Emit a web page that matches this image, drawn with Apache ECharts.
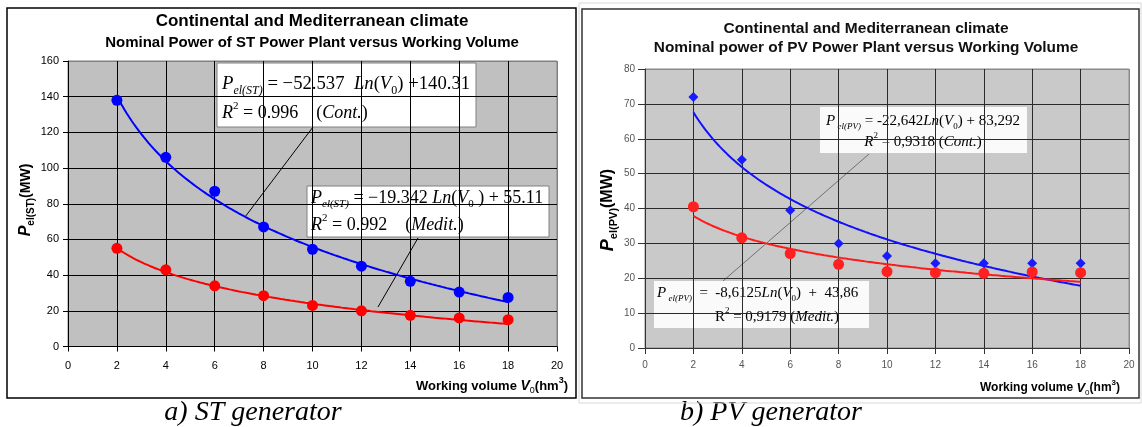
<!DOCTYPE html>
<html>
<head>
<meta charset="utf-8">
<script src="https://cdn.jsdelivr.net/npm/echarts@6/dist/echarts.min.js"></script>
<style>
  html, body { margin: 0; padding: 0; background: #fff; }
  #st { position: absolute; left: 0; top: 0; width: 1142px; height: 427px; }
  #pv { position: absolute; left: 578px; top: 0; width: 564px; height: 405px; filter: blur(0.6px); }
</style>
</head>
<body>
<div id="st"></div>
<div id="pv"></div>
<script>
// Working volume V0 (hm³)
const volume = [2, 4, 6, 8, 10, 12, 14, 16, 18];

// ST generator – nominal power (MW)
const stCont  = [138, 106, 87, 67, 54.5, 45, 36.5, 30.5, 27.5];
const stMedit = [55, 43, 34, 28.5, 23, 20, 17.5, 16, 15];

// PV generator – nominal power (MW)
const pvCont  = [72, 54, 39.5, 30, 26.4, 24.3, 24.3, 24.3, 24.3];
const pvMedit = [40.5, 31.6, 27.1, 24, 21.9, 21.6, 21.4, 21.8, 21.6];

// Logarithmic fits  P = a·Ln(V0) + b   as [a, b]
const stFitCont  = [-52.537, 140.31];
const stFitMedit = [-19.342, 55.11];
const pvFitCont  = [-22.642, 83.292];
const pvFitMedit = [-8.6125, 43.86];
// the ST fits were made against the point number (1…9), i.e. V0 / 2
const stFitDivisor = 2;
const pvFitDivisor = 1;

// Axis ticks
const xAxisTicks  = { min: 0, max: 20, step: 2 };
const stAxisTicks = { min: 0, max: 160, step: 20 };
const pvAxisTicks = { min: 0, max: 80, step: 10 };

const SANS = '"Liberation Sans", Arial, sans-serif';
const SERIF = '"Liberation Serif", "Times New Roman", serif';

function fitCurve(fit, divisor) {
  const pts = [];
  for (let x = volume[0]; x <= volume[volume.length - 1] + 1e-9; x += 0.1) {
    pts.push([x, fit[0] * Math.log(x / divisor) + fit[1]]);
  }
  return pts;
}
function pairs(ys) { return volume.map((v, i) => [v, ys[i]]); }

function formulaRich(S, color) {
  const s = Math.round(S * 0.62);
  return {
    n:  { fontFamily: SERIF, fontSize: S, lineHeight: S + 6, color: color },
    i:  { fontFamily: SERIF, fontSize: S, fontStyle: 'italic', lineHeight: S + 6, color: color },
    si: { fontFamily: SERIF, fontSize: s, fontStyle: 'italic', lineHeight: s, verticalAlign: 'bottom', color: color },
    sn: { fontFamily: SERIF, fontSize: s, lineHeight: s, verticalAlign: 'bottom', color: color },
    up: { fontFamily: SERIF, fontSize: s, lineHeight: s, verticalAlign: 'top', color: color }
  };
}
function axisNameRich(S, color) {
  const s = Math.round(S * 0.7);
  return {
    b:   { fontFamily: SANS, fontWeight: 'bold', fontSize: S, lineHeight: S + 6, color: color },
    bi:  { fontFamily: SANS, fontWeight: 'bold', fontStyle: 'italic', fontSize: S + 1, lineHeight: S + 6, color: color },
    sub: { fontFamily: SANS, fontSize: s, lineHeight: s, verticalAlign: 'bottom', color: color },
    sup: { fontFamily: SANS, fontWeight: 'bold', fontSize: s, lineHeight: s, verticalAlign: 'top', color: color }
  };
}
function text(x, y, str, style, extra) {
  return Object.assign({
    type: 'text', x: x, y: y, silent: true,
    style: Object.assign({ text: str, align: 'left', verticalAlign: 'middle' }, style)
  }, extra || {});
}
function rect(x, y, w, h, style) {
  return { type: 'rect', shape: { x: x, y: y, width: w, height: h }, style: style, silent: true };
}
function line(x1, y1, x2, y2, color, w) {
  return { type: 'line', shape: { x1: x1, y1: y1, x2: x2, y2: y2 }, style: { stroke: color, lineWidth: w }, silent: true };
}
function gridColors(ticks, inner, edge) {
  const n = Math.round((ticks.max - ticks.min) / ticks.step) + 1;
  const arr = [];
  for (let i = 0; i < n; i++) arr.push(i === n - 1 ? edge : inner);
  return arr;
}
function valueAxis(ticks, labelStyle, tickLen, lineColor, gridColor, edgeColor, margin) {
  return {
    type: 'value', min: ticks.min, max: ticks.max, interval: ticks.step,
    axisLine: { show: true, onZero: false, lineStyle: { color: lineColor, width: 1 } },
    axisTick: { show: true, inside: false, length: tickLen, lineStyle: { color: lineColor, width: 1 } },
    axisLabel: Object.assign({ margin: margin, showMinLabel: true, showMaxLabel: true }, labelStyle),
    splitLine: { show: true, lineStyle: { color: gridColors(ticks, gridColor, edgeColor), width: 1, type: 'solid' } },
    splitArea: { show: false }
  };
}

/* ---------- ST generator (left panel, plus both captions) ---------- */
const stChart = echarts.init(document.getElementById('st'), null, { renderer: 'canvas' });
const stLabel = { fontFamily: SANS, fontSize: 11, color: '#000' };
const stRich = formulaRich(18, '#000');
stChart.setOption({
  animation: false,
  grid: { left: 68, top: 61, width: 489, height: 285.5, show: true,
          backgroundColor: '#c0c0c0', borderColor: '#808080', borderWidth: 1 },
  xAxis: valueAxis(xAxisTicks, stLabel, 5, '#000', '#000', '#808080', 14),
  yAxis: valueAxis(stAxisTicks, stLabel, 5, '#000', '#000', '#808080', 9),
  series: [
    { type: 'line', data: fitCurve(stFitCont, stFitDivisor), showSymbol: false, symbol: 'none',
      lineStyle: { color: '#0000ff', width: 2 }, z: 3 },
    { type: 'line', data: fitCurve(stFitMedit, stFitDivisor), showSymbol: false, symbol: 'none',
      lineStyle: { color: '#ff0000', width: 2 }, z: 3 },
    { type: 'scatter', data: pairs(stCont), symbol: 'circle', symbolSize: 11,
      itemStyle: { color: '#0000ff', opacity: 1 }, z: 4 },
    { type: 'scatter', data: pairs(stMedit), symbol: 'circle', symbolSize: 11,
      itemStyle: { color: '#ff0000', opacity: 1 }, z: 4 }
  ],
  graphic: [
    rect(7, 8, 569, 390, { fill: 'none', stroke: '#000', lineWidth: 1.5 }),
    text(312, 21, 'Continental and Mediterranean climate',
      { align: 'center', fontFamily: SANS, fontWeight: 'bold', fontSize: 17, fill: '#000' }),
    text(312, 43, 'Nominal Power of ST Power Plant versus Working Volume',
      { align: 'center', fontFamily: SANS, fontWeight: 'bold', fontSize: 15, fill: '#000' }),
    text(26, 200, '{p|P}{s|el(ST)}{m|(MW)}', {
      align: 'center',
      rich: {
        p: { fontFamily: SANS, fontWeight: 'bold', fontStyle: 'italic', fontSize: 16, lineHeight: 20, color: '#000' },
        s: { fontFamily: SANS, fontWeight: 'bold', fontSize: 10, lineHeight: 10, verticalAlign: 'bottom', color: '#000' },
        m: { fontFamily: SANS, fontWeight: 'bold', fontSize: 14, lineHeight: 20, color: '#000' }
      }
    }, { rotation: Math.PI / 2 }),
    text(568, 386, '{b|Working volume }{bi|V}{sub|0}{b|(hm}{sup|3}{b|)}',
      { align: 'right', rich: axisNameRich(13, '#000') }),

    // Leader lines from the fit labels to the curves
    line(313, 127, 245, 217, '#000', 1),
    line(418, 238, 378, 307, '#000', 1),

    // Continental fit label
    rect(217, 63, 259, 64, { fill: '#fff', stroke: '#808080', lineWidth: 1 }),
    text(222, 84, '{i|P}{si|el(ST)}{n| = −52.537  }{i|Ln}{n|(}{i|V}{sn|0}{n|) +140.31}',
      { rich: formulaRich(18.7, '#000') }),
    text(222, 113, '{i|R}{up|2}{n| = 0.996    (}{i|Cont.}{n|)}', { rich: stRich }),

    // Mediterranean fit label
    rect(307, 186, 242, 51, { fill: '#fff', stroke: '#808080', lineWidth: 1 }),
    text(311, 198, '{i|P}{si|el(ST)}{n| = −19.342 }{i|Ln}{n|(}{i|V}{sn|0}{n| ) + 55.11}', { rich: stRich }),
    text(311, 225, '{i|R}{up|2}{n| = 0.992    (}{i|Medit.}{n|)}', { rich: stRich }),

    // Captions
    text(253, 413, 'a) ST generator',
      { align: 'center', fontFamily: SERIF, fontStyle: 'italic', fontSize: 28, fill: '#000' }),
    text(771, 413, 'b) PV generator',
      { align: 'center', fontFamily: SERIF, fontStyle: 'italic', fontSize: 28, fill: '#000' })
  ]
});

/* ---------- PV generator (right panel) ---------- */
const pvChart = echarts.init(document.getElementById('pv'), null, { renderer: 'canvas' });
const pvLabel = { fontFamily: SANS, fontSize: 10, color: '#555' };
const pvRich = formulaRich(15, '#222');
pvChart.setOption({
  animation: false,
  grid: { left: 67, top: 69, width: 484, height: 279, show: true,
          backgroundColor: '#c9c9c9', borderColor: '#8a8a8a', borderWidth: 1 },
  xAxis: valueAxis(xAxisTicks, pvLabel, 6, '#333', '#2a2a2a', '#8a8a8a', 12),
  yAxis: valueAxis(pvAxisTicks, pvLabel, 7, '#333', '#2a2a2a', '#8a8a8a', 10),
  series: [
    { type: 'line', data: fitCurve(pvFitCont, pvFitDivisor), showSymbol: false, symbol: 'none',
      lineStyle: { color: '#1010ff', width: 2 }, z: 3 },
    { type: 'line', data: fitCurve(pvFitMedit, pvFitDivisor), showSymbol: false, symbol: 'none',
      lineStyle: { color: '#ff1a1a', width: 2 }, z: 3 },
    { type: 'scatter', data: pairs(pvCont), symbol: 'diamond', symbolSize: 10,
      itemStyle: { color: '#1a1aff', opacity: 1 }, z: 4 },
    { type: 'scatter', data: pairs(pvMedit), symbol: 'circle', symbolSize: 11,
      itemStyle: { color: '#ff2020', opacity: 1 }, z: 4 }
  ],
  graphic: [
    rect(1, 3, 562, 400, { fill: 'none', stroke: '#d8d8d8', lineWidth: 1 }),
    rect(4, 9, 557, 389, { fill: 'none', stroke: '#333', lineWidth: 1.5 }),
    text(288, 29, 'Continental and Mediterranean climate',
      { align: 'center', fontFamily: SANS, fontWeight: 'bold', fontSize: 15.5, fill: '#111' }),
    text(288, 48, 'Nominal power of PV Power Plant versus Working Volume',
      { align: 'center', fontFamily: SANS, fontWeight: 'bold', fontSize: 15.4, fill: '#111' }),
    text(30, 210, '{p|P}{s|el(PV)}{m|(MW)}', {
      align: 'center',
      rich: {
        p: { fontFamily: SANS, fontWeight: 'bold', fontStyle: 'italic', fontSize: 18, lineHeight: 22, color: '#111' },
        s: { fontFamily: SANS, fontWeight: 'bold', fontSize: 11, lineHeight: 11, verticalAlign: 'bottom', color: '#111' },
        m: { fontFamily: SANS, fontWeight: 'bold', fontSize: 16, lineHeight: 22, color: '#111' }
      }
    }, { rotation: Math.PI / 2 }),
    text(542, 388, '{b|Working volume }{bi|V}{sub|0}{b|(hm}{sup|3}{b|)}',
      { align: 'right', rich: axisNameRich(12, '#111') }),

    // Leader line joining the two fit labels
    line(291, 154, 145, 281, '#707070', 1),

    // Continental fit label
    rect(242, 107, 207, 46, { fill: '#fafafa', stroke: 'none' }),
    text(345, 121, '{i|P}{si| el(PV)}{n| = -22,642}{i|Ln}{n|(}{i|V}{sn|0}{n|) + 83,292}',
      { align: 'center', rich: pvRich }),
    text(345, 142, '{i|R}{up|2}{n| = 0,9318 (}{i|Cont.}{n|)}', { align: 'center', rich: pvRich }),

    // Mediterranean fit label
    rect(76, 281, 215, 47, { fill: '#fafafa', stroke: 'none' }),
    text(79, 293, '{i|P}{si| el(PV)}{n|  =  -8,6125}{i|Ln}{n|(}{i|V}{sn|0}{n|)  +  43,86}', { rich: pvRich }),
    text(199, 317, '{n|R}{up|2}{n| = 0,9179 (}{i|Medit.}{n|)}', { align: 'center', rich: pvRich })
  ]
});
</script>
</body>
</html>
